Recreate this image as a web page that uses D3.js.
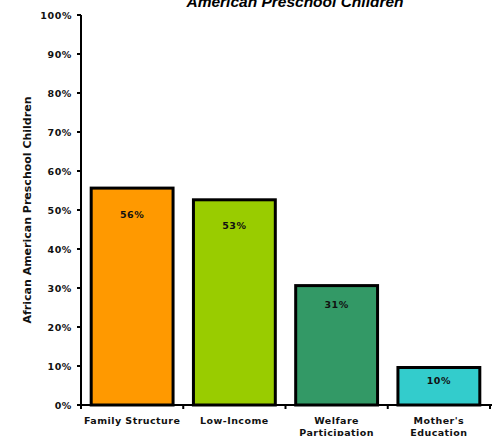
<!DOCTYPE html>
<html><head><meta charset="utf-8">
<script src="https://cdn.jsdelivr.net/npm/d3@7/dist/d3.min.js"></script>
<style>body{margin:0;background:#fff}svg{display:block}</style>
</head><body>
<svg id="c" width="492" height="436"></svg>
<script>
const categories = ["Family Structure", "Low-Income", "Welfare\nParticipation", "Mother's\nEducation"];
const values = [56, 53, 31, 10];
const colors = ["#FF9900", "#99CC00", "#339966", "#33CCCC"];
const yTicks = [0,10,20,30,40,50,60,70,80,90,100];
const title = "American Preschool Children";
const yTitle = "African American Preschool Children";

const svg = d3.select("#c");
const pLeft = 81, pRight = 490, pTop = 15, pBottom = 405;
const x = d3.scaleBand().domain(categories).range([pLeft, pRight]).paddingInner(0.17).paddingOuter(0.085);
const y = d3.scaleLinear().domain([0, 100]).range([pBottom, pTop]);
const font = "'DejaVu Sans', Verdana, sans-serif";

svg.append("text").attr("x", 295).attr("y", 6.5).attr("text-anchor", "middle")
  .attr("font-family", "'Liberation Sans', Arial, sans-serif").attr("font-weight", "bold")
  .attr("font-style", "italic").attr("font-size", 15.5).text(title);

// bars
svg.selectAll("rect.bar").data(values).join("rect").attr("class", "bar")
  .attr("x", (d, i) => x(categories[i]) + 1.5)
  .attr("y", d => y(d) + 1.5)
  .attr("width", x.bandwidth() - 3)
  .attr("height", d => y(0) - y(d) - 1.5)
  .attr("fill", (d, i) => colors[i]).attr("stroke", "#000").attr("stroke-width", 3);

// value labels
svg.selectAll("text.val").data(values).join("text").attr("class", "val")
  .attr("x", (d, i) => x(categories[i]) + x.bandwidth() / 2)
  .attr("y", d => y(d) + 12 + 0.29 * d + 3)
  .attr("text-anchor", "middle").attr("font-family", font).attr("font-weight", "bold")
  .attr("font-size", 9.5).attr("letter-spacing", 0.5).attr("fill", "#111").text(d => d + "%");

// y axis
const ya = svg.append("g");
ya.append("line").attr("x1", pLeft).attr("x2", pLeft).attr("y1", pTop).attr("y2", pBottom).attr("stroke", "#000").attr("stroke-width", 2);
ya.selectAll("line.t").data(yTicks).join("line").attr("class", "t")
  .attr("x1", pLeft - 4).attr("x2", pLeft).attr("y1", d => y(d)).attr("y2", d => y(d)).attr("stroke", "#000").attr("stroke-width", 2);
ya.selectAll("text").data(yTicks).join("text")
  .attr("x", pLeft - 9).attr("y", d => y(d) + 3.5).attr("text-anchor", "end")
  .attr("font-family", font).attr("font-weight", "bold").attr("font-size", 9.5).attr("letter-spacing", 0.6)
  .attr("fill", "#111").text(d => d + "%");

// x axis
const xa = svg.append("g");
xa.append("line").attr("x1", pLeft - 4).attr("x2", pRight + 2).attr("y1", pBottom).attr("y2", pBottom).attr("stroke", "#000").attr("stroke-width", 2);
const bounds = categories.map(c => x(c) - x.step() * x.paddingInner() / 2).concat([pRight]);
bounds[0] = pLeft;
xa.selectAll("line.t").data(bounds).join("line").attr("class", "t")
  .attr("x1", d => d).attr("x2", d => d).attr("y1", pBottom).attr("y2", pBottom + 4).attr("stroke", "#000").attr("stroke-width", 2);
xa.selectAll("text").data(categories).join("text")
  .attr("x", d => x(d) + x.bandwidth() / 2).attr("y", 424).attr("text-anchor", "middle")
  .attr("font-family", font).attr("font-weight", "bold").attr("font-size", 9.5).attr("letter-spacing", 0.45).attr("fill", "#111")
  .each(function(d) {
    const lines = d.split("\n");
    d3.select(this).selectAll("tspan").data(lines).join("tspan")
      .attr("x", x(d) + x.bandwidth() / 2).attr("dy", (l, i) => i === 0 ? 0 : 12).text(l => l);
  });

svg.append("text").attr("transform", "translate(31,210) rotate(-90)").attr("text-anchor", "middle")
  .attr("font-family", font).attr("font-weight", "bold").attr("font-size", 11)
  .attr("fill", "#111").text(yTitle);
</script>
</body></html>
